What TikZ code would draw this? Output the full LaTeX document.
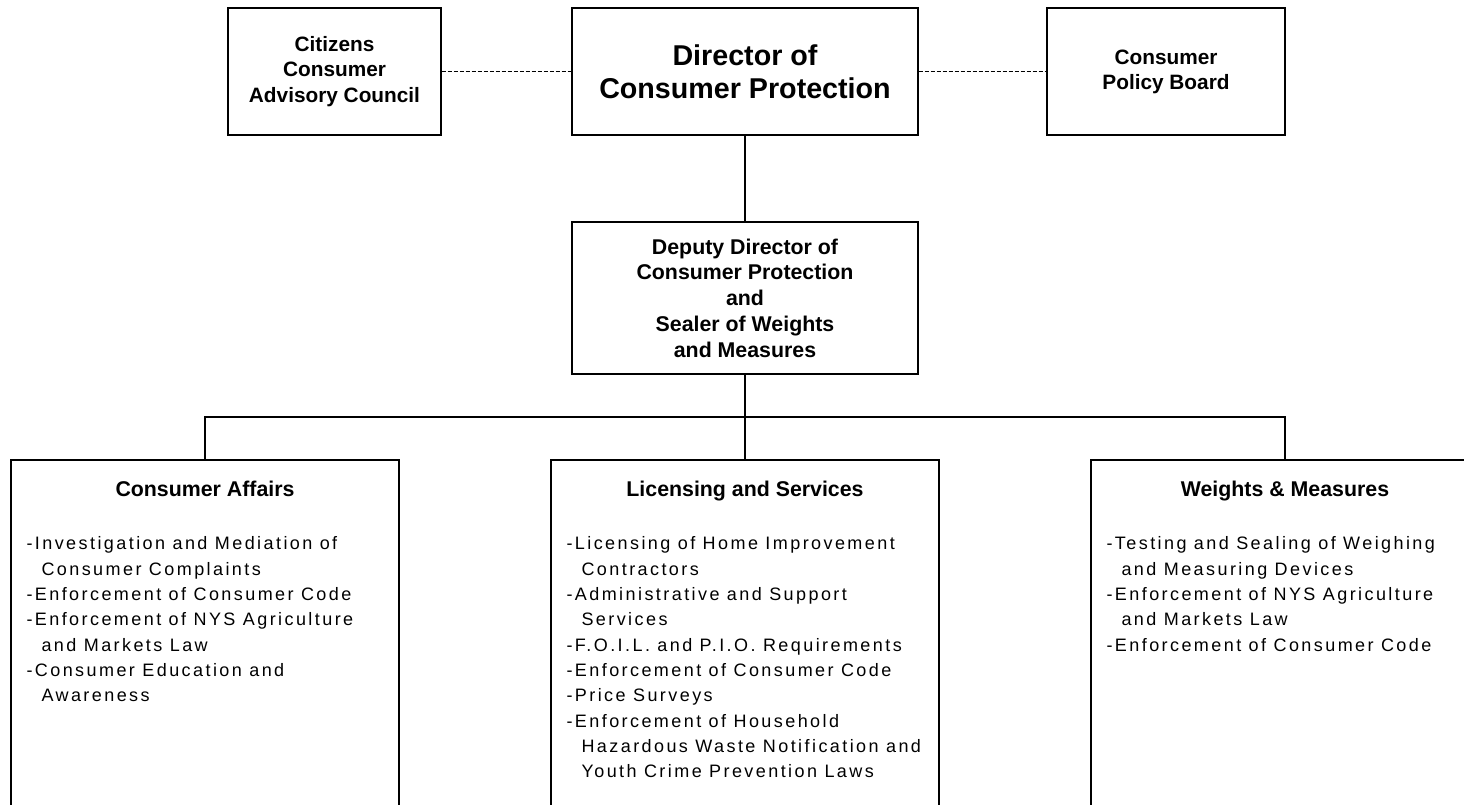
\documentclass[tikz,border=0pt]{standalone}
\usepackage{fontspec}
\setmainfont{Liberation Sans}
\newfontfamily\listfont{Liberation Sans}[LetterSpace=13.5]
\usetikzlibrary{positioning}
\newcommand{\indt}{\hspace*{11.25pt}}

\begin{document}
\begin{tikzpicture}[x=0.75pt,y=-0.75pt]

\tikzset{
    box/.style={draw,line width=1.1pt,inner sep=0pt,minimum width=#1},
    head/.style={box=#1,minimum height=95.25pt,align=center,
        font=\fontsize{15.6}{18.9}\selectfont\bfseries},
    dept/.style={box=291pt,minimum height=285pt},
    title/.style={anchor=base,inner sep=0pt,font=\fontsize{16}{19}\selectfont\bfseries},
    duties/.style={inner sep=0pt,align=left,font=\listfont\fontsize{13.5}{19}\selectfont},
    link/.style={line width=0.8pt},
    dashlink/.style={line width=0.6pt,dash pattern=on 3pt off 1.5pt}}

\useasboundingbox (0,0) rectangle (1464,804);
\clip (0,0) rectangle (1464,804);

% top row
\node[head=159.75pt] (cit) at (334.5,71.5) {Citizens\\Consumer\\Advisory Council};
\node[head=259.5pt,font=\fontsize{21.5}{25}\selectfont\bfseries] (dir) at (745,71.5)
    {Director of\\Consumer Protection};
\node[head=178.5pt] (pol) at (1166,71.5) {Consumer\\Policy Board};

\node[head=259.5pt,minimum height=114pt,font=\fontsize{16}{19.3}\selectfont\bfseries] (dep) at (745,298)
    {Deputy Director of\\Consumer Protection\\and\\Sealer of Weights\\and Measures};

% divisions
\node[dept] (ca) at (205,650) {};
\node[dept] (ls) at (745,650) {};
\node[dept] (wm) at (1285,650) {};

\node[title] (catitle) at ([yshift=-27.75pt]ca.north) {Consumer Affairs};
\node[title] (lstitle) at ([yshift=-27.75pt]ls.north) {Licensing and Services};
\node[title] (wmtitle) at ([yshift=-27.75pt]wm.north) {Weights \& Measures};

\node[duties, below right=58pt and 12pt of ca.north west] (calist) {%
-Investigation and Mediation of\\
\indt Consumer Complaints\\
-Enforcement of Consumer Code\\
-Enforcement of NYS Agriculture\\
\indt and Markets Law\\
-Consumer Education and\\
\indt Awareness};

\node[duties, below right=58pt and 12pt of ls.north west] (lslist) {%
-Licensing of Home Improvement\\
\indt Contractors\\
-Administrative and Support\\
\indt Services\\
-F.O.I.L. and P.I.O. Requirements\\
-Enforcement of Consumer Code\\
-Price Surveys\\
-Enforcement of Household\\
\indt Hazardous Waste Notification and\\
\indt Youth Crime Prevention Laws};

\node[duties, below right=58pt and 12pt of wm.north west] (wmlist) {%
-Testing and Sealing of Weighing\\
\indt and Measuring Devices\\
-Enforcement of NYS Agriculture\\
\indt and Markets Law\\
-Enforcement of Consumer Code};

\coordinate (bus) at (745,417);

\draw[dashlink] (cit) -- (dir);
\draw[dashlink] (dir) -- (pol);
\draw[link] (dir) -- (dep);
\draw[link] (dep.south) -- (ls.north);
\draw[link] (ca.north) |- (bus) -| (wm.north);

\end{tikzpicture}
\end{document}
